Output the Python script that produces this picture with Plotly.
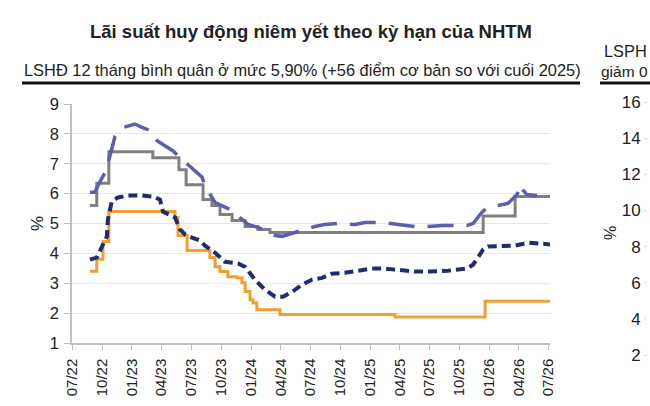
import plotly.graph_objects as go

# ---------------- data ----------------
gray_dates = ["2022-08-25", "2022-09-15", "2022-10-22", "2023-03-06", "2023-05-25",
              "2023-06-16", "2023-08-07", "2023-09-03", "2023-09-28", "2023-11-04",
              "2023-12-14", "2024-01-22", "2024-02-28", "2025-12-13", "2026-03-21",
              "2026-07-06"]
gray_vals = [5.6, 6.35, 7.4, 7.2, 6.8, 6.3, 5.8, 5.6, 5.3, 5.1, 4.9, 4.8, 4.7, 5.25, 5.9, 5.9]

orange_dates = ["2022-08-25", "2022-09-15", "2022-10-04", "2022-10-22", "2023-05-13",
                "2023-05-22", "2023-06-19", "2023-08-28", "2023-09-13", "2023-09-28",
                "2023-10-22", "2023-11-19", "2023-12-04", "2023-12-14", "2023-12-29",
                "2024-01-07", "2024-01-19", "2024-03-30", "2025-03-18", "2025-12-19",
                "2026-07-06"]
orange_vals = [3.4, 3.8, 4.4, 5.4, 5.2, 4.6, 4.1, 3.86, 3.55, 3.39, 3.22, 3.18, 3.02,
               2.72, 2.45, 2.34, 2.11, 1.95, 1.87, 2.4, 2.4]

blue_dates = ["2022-08-25", "2022-09-09", "2022-09-24", "2022-10-10", "2022-10-25",
              "2022-11-10", "2022-12-01", "2023-01-10", "2023-02-04", "2023-03-03",
              "2023-03-19", "2023-04-21", "2023-05-07", "2023-06-03", "2023-06-28",
              "2023-08-04", "2023-08-13", "2023-09-03", "2023-09-13", "2023-10-29",
              "2023-11-22", "2023-12-23", "2024-01-22", "2024-02-22", "2024-03-15",
              "2024-04-05", "2024-05-15", "2024-06-30", "2024-07-15", "2024-08-15",
              "2024-09-24", "2024-11-15", "2024-12-16", "2025-02-09", "2025-03-27",
              "2025-05-18", "2025-06-24", "2025-08-12", "2025-10-24", "2025-11-12",
              "2025-12-09", "2025-12-25", "2026-01-24", "2026-02-27", "2026-03-27",
              "2026-04-08", "2026-04-14", "2026-04-26", "2026-05-27"]
blue_vals = [6.05, 6.05, 6.38, 6.7, 7.25, 7.92, 8.2, 8.33, 8.2, 8.1, 7.77, 7.55, 7.43,
             7.15, 6.9, 6.55, 6.25, 5.9, 5.7, 5.47, 5.24, 4.97, 4.87, 4.73, 4.6, 4.57,
             4.7, 4.87, 4.9, 4.97, 5.0, 4.97, 5.03, 5.03, 4.97, 4.9, 4.9, 4.93, 4.93,
             5.0, 5.37, 5.53, 5.6, 5.67, 5.97, 6.3, 6.13, 5.97, 5.94]

navy_dates = ["2022-08-25", "2022-09-15", "2022-10-16", "2022-10-19", "2022-10-31",
              "2022-11-19", "2022-12-20", "2023-02-01", "2023-03-06", "2023-03-28",
              "2023-04-06", "2023-04-21", "2023-05-13", "2023-05-28", "2023-06-13",
              "2023-07-04", "2023-07-29", "2023-08-13", "2023-09-13", "2023-10-13",
              "2023-11-22", "2023-12-14", "2024-01-13", "2024-02-13", "2024-03-15",
              "2024-04-08", "2024-05-06", "2024-06-05", "2024-07-06", "2024-08-06",
              "2024-09-05", "2024-10-15", "2024-11-24", "2025-01-06", "2025-02-15",
              "2025-03-27", "2025-05-18", "2025-07-03", "2025-08-27", "2025-10-24",
              "2025-11-12", "2025-11-27", "2025-12-13", "2025-12-28", "2026-02-09",
              "2026-03-21", "2026-04-30", "2026-05-30", "2026-07-06"]
navy_vals = [3.79, 3.86, 4.57, 5.13, 5.74, 5.87, 5.94, 5.94, 5.9, 5.8, 5.4, 5.33, 5.2,
             4.8, 4.63, 4.53, 4.43, 4.26, 4.02, 3.72, 3.66, 3.55, 3.12, 2.78, 2.55,
             2.55, 2.71, 2.95, 3.12, 3.18, 3.32, 3.35, 3.42, 3.49, 3.49, 3.45, 3.39,
             3.39, 3.42, 3.49, 3.62, 3.86, 4.13, 4.23, 4.23, 4.26, 4.36, 4.33, 4.3]

title_text = "<b>Lãi suất huy động niêm yết theo kỳ hạn của NHTM</b>"
subtitle_text = "LSHĐ 12 tháng bình quân ở mức 5,90% (+56 điểm cơ bản so với cuối 2025)"
right_sub1 = "LSPH"
right_sub2 = "giảm 0"

FONT = "Arial, Liberation Sans, sans-serif"
TXT = "#222222"

# ---------------- geometry helpers ----------------
W, H = 650, 406
ML, MR, MT, MB = 72, 0, 80, 20
PW, PH = W - ML - MR, H - MT - MB


def px_x(x):
    return (x - ML) / PW


def px_y(y):
    return (H - MB - y) / PH


fig = go.Figure()
fig.add_trace(go.Scatter(x=gray_dates, y=gray_vals, mode="lines", line_shape="hv",
                         line=dict(color="#808080", width=3), showlegend=False))
fig.add_trace(go.Scatter(x=orange_dates, y=orange_vals, mode="lines", line_shape="hv",
                         line=dict(color="#f0a030", width=3), showlegend=False))
fig.add_trace(go.Scatter(x=blue_dates, y=blue_vals, mode="lines",
                         line=dict(color="#5c5fae", width=3.5, dash="26px,13px"),
                         showlegend=False))
fig.add_trace(go.Scatter(x=navy_dates, y=navy_vals, mode="lines",
                         line=dict(color="#1f2d6e", width=4, dash="9px,5px"),
                         showlegend=False))
# neighbouring (cropped) chart: only its axis is visible
fig.add_trace(go.Scatter(x=[None], y=[None], xaxis="x2", yaxis="y2", mode="lines",
                         showlegend=False, hoverinfo="skip"))

fig.update_layout(
    width=W, height=H, template="none",
    margin=dict(l=ML, r=MR, t=MT, b=MB),
    paper_bgcolor="white", plot_bgcolor="white",
    font=dict(family=FONT, color=TXT),
    title=dict(text=title_text, x=311 / W, xanchor="center", xref="container",
               y=1 - 32 / H, yanchor="middle", yref="container",
               font=dict(size=18.5, color=TXT, family=FONT)),
    xaxis=dict(type="date", domain=[0, px_x(550)], range=["2022-07-01", "2026-07-06"],
               tick0="2022-07-01", dtick="M3", tickformat="%m/%y", tickangle=-90,
               ticks="outside", ticklen=5, tickcolor="#bfbfbf", showline=True,
               linecolor="#bfbfbf", linewidth=1.5, showgrid=False, zeroline=False,
               tickfont=dict(size=15, color=TXT), anchor="y", automargin=False,
               ticklabelstandoff=3),
    yaxis=dict(domain=[px_y(343), px_y(104)], range=[1, 9], dtick=1, tick0=1,
               ticks="outside", ticklen=6, tickcolor="#bfbfbf", showline=True,
               linecolor="#bfbfbf", linewidth=1.5, showgrid=True, gridcolor="#e6e6e6",
               gridwidth=1, zeroline=False, tickfont=dict(size=16.5, color=TXT),
               ticklabelstandoff=2,
               title=dict(text="%", font=dict(size=17, color=TXT), standoff=2),
               anchor="x", automargin=False),
    xaxis2=dict(domain=[px_x(648), 1], visible=False, anchor="y2", range=[0, 1]),
    yaxis2=dict(domain=[0, 1], range=[2 - (H - MB - 355) / 18.07, 16 + (102 - MT) / 18.07],
                dtick=2, tick0=0, anchor="x2", side="left", ticks="outside",
                ticklen=3, tickcolor="#d9d9d9", showline=False, showgrid=False,
                zeroline=False, tickfont=dict(size=17, color=TXT),
                title=dict(text="%", font=dict(size=16, color=TXT), standoff=1),
                automargin=False),
)

# subtitle and underline
fig.add_annotation(text=subtitle_text, xref="paper", yref="paper", x=px_x(22), y=px_y(70),
                   xanchor="left", yanchor="middle", showarrow=False,
                   font=dict(size=16.4, color=TXT, family=FONT))
fig.add_shape(type="line", xref="paper", yref="paper", x0=px_x(22), x1=px_x(580),
              y0=px_y(83), y1=px_y(83), line=dict(color="#111111", width=3))
fig.add_annotation(text=right_sub1, xref="paper", yref="paper", x=px_x(602), y=px_y(51),
                   xanchor="left", yanchor="middle", showarrow=False,
                   font=dict(size=16.4, color=TXT, family=FONT))
fig.add_annotation(text=right_sub2, xref="paper", yref="paper", x=px_x(599), y=px_y(71),
                   xanchor="left", yanchor="middle", showarrow=False,
                   font=dict(size=15.5, color=TXT, family=FONT))
fig.add_shape(type="line", xref="paper", yref="paper", x0=px_x(600), x1=px_x(660),
              y0=px_y(83), y1=px_y(83), line=dict(color="#111111", width=3))

fig.write_html("out.html")
